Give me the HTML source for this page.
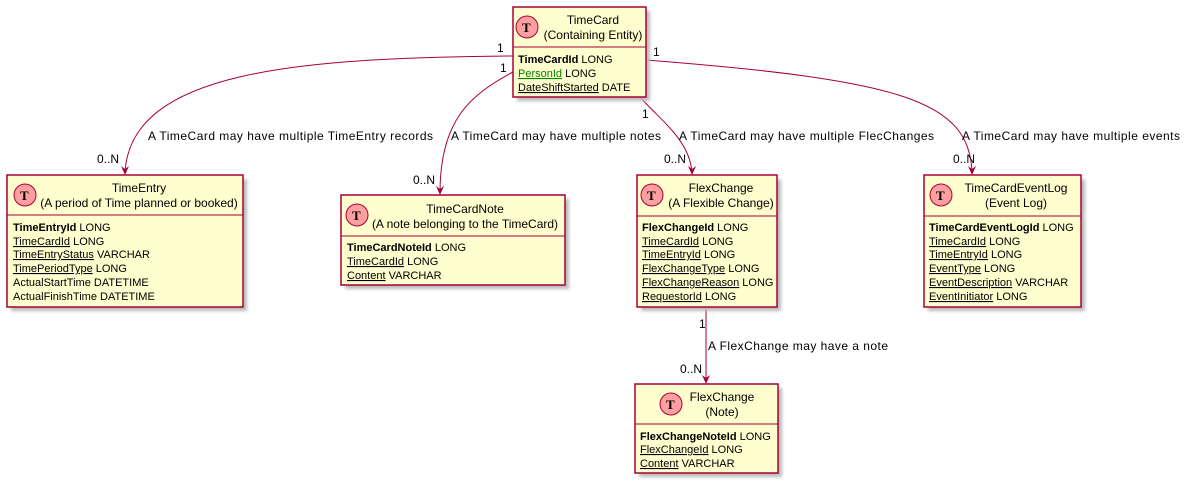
<!DOCTYPE html>
<html><head><meta charset="utf-8"><style>
html,body{margin:0;padding:0;background:#fff}
svg{display:block}
text{font-family:"Liberation Sans",sans-serif;fill:#000}
.t{font-size:12px}
.a{font-size:11px}
.l{font-size:12px}
.u{text-decoration:underline}
.b{font-weight:bold}
.box{fill:#FEFECE;stroke:#A80036;stroke-width:1.5}
.sh{fill:#bbb;filter:url(#blur)}
.e{fill:none;stroke:#A80036;stroke-width:1}
.ic{fill:#FF9F9F;stroke:#A80036;stroke-width:1}
.it{font-family:"Liberation Serif",serif;font-weight:bold;font-size:13px}
</style></head><body>
<svg width="1185" height="486" viewBox="0 0 1185 486" xmlns="http://www.w3.org/2000/svg">
<defs><filter id="blur"><feGaussianBlur stdDeviation="1.5"/></filter></defs>

<path class="e" d="M513,56 C300,58 130,70 125,173"/>
<polygon fill="#A80036" points="125,175 121,166 125,169 129,166"/>
<path class="e" d="M513,72 C470,95 440,120 440,193"/>
<polygon fill="#A80036" points="440,195 436,186 440,189 444,186"/>
<path class="e" d="M640,97 C660,120 690,140 692,173"/>
<polygon fill="#A80036" points="692,175 688,166 692,169 696,166"/>
<path class="e" d="M646,60 C900,80 970,100 972,173"/>
<polygon fill="#A80036" points="972,175 968,166 972,169 976,166"/>
<path class="e" d="M706,307 L706,382"/>
<polygon fill="#A80036" points="706,384 702,375 706,378 710,375"/>

<text class="l" x="497" y="52">1</text>
<text class="l" x="500" y="72">1</text>
<text class="l" x="653" y="56">1</text>
<text class="l" x="642" y="118">1</text>
<text class="l" x="148" y="140" textLength="285">A TimeCard may have multiple TimeEntry records</text>
<text class="l" x="97" y="163">0..N</text>
<text class="l" x="451" y="140" textLength="210">A TimeCard may have multiple notes</text>
<text class="l" x="413" y="184">0..N</text>
<text class="l" x="679" y="140" textLength="255">A TimeCard may have multiple FlecChanges</text>
<text class="l" x="664" y="163">0..N</text>
<text class="l" x="962" y="140" textLength="218">A TimeCard may have multiple events</text>
<text class="l" x="953" y="163">0..N</text>
<text class="l" x="699" y="328">1</text>
<text class="l" x="708" y="350" textLength="180">A FlexChange may have a note</text>
<text class="l" x="680" y="373">0..N</text>

<rect class="sh" x="517" y="11" width="133" height="90"/>
<rect class="box" x="513" y="7" width="133" height="90"/>
<line class="e" x1="513" y1="47" x2="646" y2="47"/>
<circle class="ic" cx="527" cy="27" r="11"/><text class="it" x="522" y="32">T</text>
<text class="t" x="593" y="24" text-anchor="middle">TimeCard</text>
<text class="t" x="593" y="39" text-anchor="middle">(Containing Entity)</text>
<text class="a" x="518" y="63"><tspan class="b">TimeCardId</tspan> LONG</text>
<text class="a" x="518" y="77"><tspan class="u" style="fill:#008000">PersonId</tspan> LONG</text>
<text class="a" x="518" y="91"><tspan class="u">DateShiftStarted</tspan> DATE</text>

<rect class="sh" x="11" y="179" width="236" height="132"/>
<rect class="box" x="7" y="175" width="236" height="132"/>
<line class="e" x1="7" y1="215" x2="243" y2="215"/>
<circle class="ic" cx="25" cy="195" r="11"/><text class="it" x="20" y="200">T</text>
<text class="t" x="139" y="192" text-anchor="middle">TimeEntry</text>
<text class="t" x="139" y="207" text-anchor="middle">(A period of Time planned or booked)</text>
<text class="a" x="13" y="231"><tspan class="b">TimeEntryId</tspan> LONG</text>
<text class="a" x="13" y="245"><tspan class="u">TimeCardId</tspan> LONG</text>
<text class="a" x="13" y="258"><tspan class="u">TimeEntryStatus</tspan> VARCHAR</text>
<text class="a" x="13" y="272"><tspan class="u">TimePeriodType</tspan> LONG</text>
<text class="a" x="13" y="286">ActualStartTime DATETIME</text>
<text class="a" x="13" y="300">ActualFinishTime DATETIME</text>

<rect class="sh" x="345" y="199" width="224" height="90"/>
<rect class="box" x="341" y="195" width="224" height="90"/>
<line class="e" x1="341" y1="236" x2="565" y2="236"/>
<circle class="ic" cx="357" cy="215" r="11"/><text class="it" x="352" y="220">T</text>
<text class="t" x="465" y="213" text-anchor="middle">TimeCardNote</text>
<text class="t" x="465" y="228" text-anchor="middle">(A note belonging to the TimeCard)</text>
<text class="a" x="347" y="251"><tspan class="b">TimeCardNoteId</tspan> LONG</text>
<text class="a" x="347" y="265"><tspan class="u">TimeCardId</tspan> LONG</text>
<text class="a" x="347" y="279"><tspan class="u">Content</tspan> VARCHAR</text>

<rect class="sh" x="641" y="179" width="140" height="132"/>
<rect class="box" x="637" y="175" width="140" height="132"/>
<line class="e" x1="637" y1="216" x2="777" y2="216"/>
<circle class="ic" cx="652" cy="195" r="11"/><text class="it" x="647" y="200">T</text>
<text class="t" x="721" y="192" text-anchor="middle">FlexChange</text>
<text class="t" x="721" y="207" text-anchor="middle">(A Flexible Change)</text>
<text class="a" x="642" y="231"><tspan class="b">FlexChangeId</tspan> LONG</text>
<text class="a" x="642" y="245"><tspan class="u">TimeCardId</tspan> LONG</text>
<text class="a" x="642" y="258"><tspan class="u">TimeEntryId</tspan> LONG</text>
<text class="a" x="642" y="272"><tspan class="u">FlexChangeType</tspan> LONG</text>
<text class="a" x="642" y="286"><tspan class="u">FlexChangeReason</tspan> LONG</text>
<text class="a" x="642" y="300"><tspan class="u">RequestorId</tspan> LONG</text>

<rect class="sh" x="928" y="179" width="157" height="132"/>
<rect class="box" x="924" y="175" width="157" height="132"/>
<line class="e" x1="924" y1="216" x2="1081" y2="216"/>
<circle class="ic" cx="941" cy="195" r="11"/><text class="it" x="936" y="200">T</text>
<text class="t" x="1016" y="192" text-anchor="middle">TimeCardEventLog</text>
<text class="t" x="1016" y="207" text-anchor="middle">(Event Log)</text>
<text class="a" x="929" y="231"><tspan class="b">TimeCardEventLogId</tspan> LONG</text>
<text class="a" x="929" y="245"><tspan class="u">TimeCardId</tspan> LONG</text>
<text class="a" x="929" y="258"><tspan class="u">TimeEntryId</tspan> LONG</text>
<text class="a" x="929" y="272"><tspan class="u">EventType</tspan> LONG</text>
<text class="a" x="929" y="286"><tspan class="u">EventDescription</tspan> VARCHAR</text>
<text class="a" x="929" y="300"><tspan class="u">EventInitiator</tspan> LONG</text>

<rect class="sh" x="639" y="388" width="143" height="89"/>
<rect class="box" x="635" y="384" width="143" height="89"/>
<line class="e" x1="635" y1="424" x2="778" y2="424"/>
<circle class="ic" cx="671" cy="404" r="11"/><text class="it" x="666" y="409">T</text>
<text class="t" x="722" y="401" text-anchor="middle">FlexChange</text>
<text class="t" x="722" y="416" text-anchor="middle">(Note)</text>
<text class="a" x="640" y="440"><tspan class="b">FlexChangeNoteId</tspan> LONG</text>
<text class="a" x="640" y="453"><tspan class="u">FlexChangeId</tspan> LONG</text>
<text class="a" x="640" y="467"><tspan class="u">Content</tspan> VARCHAR</text>
</svg>
</body></html>
